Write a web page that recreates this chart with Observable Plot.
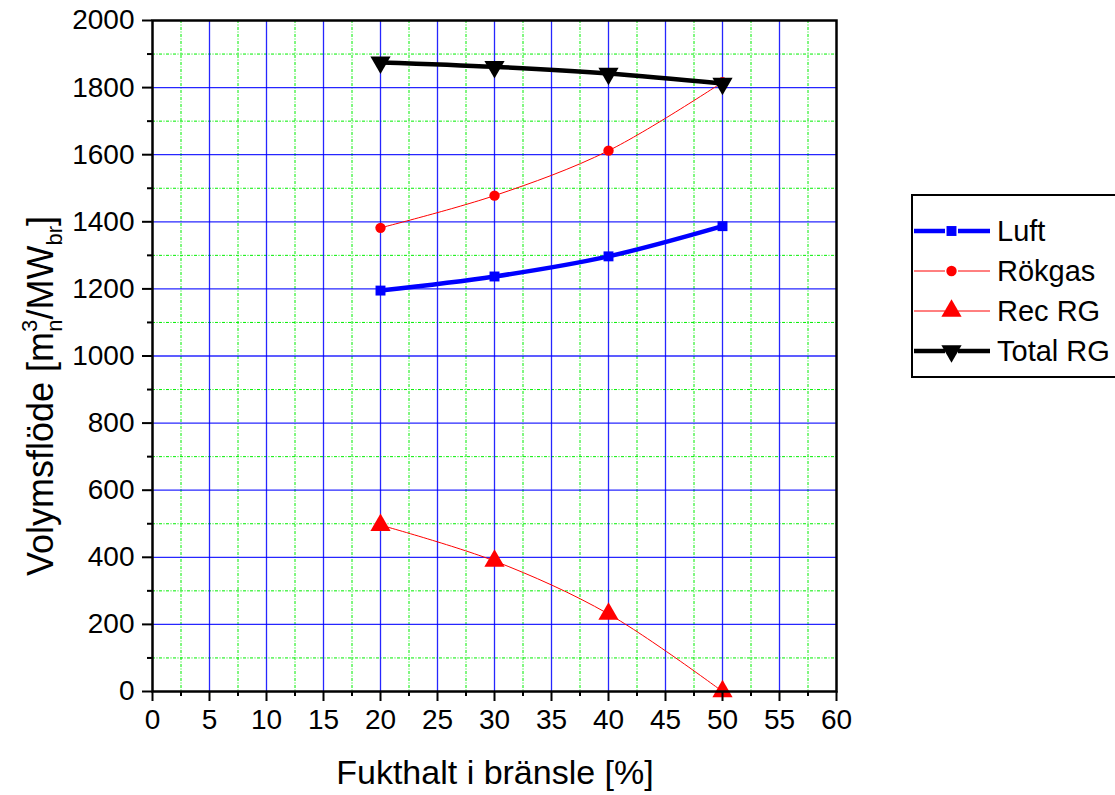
<!DOCTYPE html>
<html>
<head>
<meta charset="utf-8">
<script src="https://cdn.jsdelivr.net/npm/d3@7"></script>
<script src="https://cdn.jsdelivr.net/npm/@observablehq/plot@0.6"></script>
<style>
  html, body { margin: 0; padding: 0; background: #fff; }
  #chart { position: relative; width: 1115px; height: 795px; }
  svg { font-family: "Liberation Sans", Arial, sans-serif; }
</style>
</head>
<body>
<div id="chart"></div>
<script>
// Moisture content of the fuel [%]
const moisture = [20, 30, 40, 50];

// Volume flows [m3n/MWbr]
const luft    = [1195, 1237, 1297, 1387];
const rokgas  = [1382, 1478, 1612, 1816];
const recRG   = [496, 389, 231, 0];
const totalRG = [1875, 1862, 1842, 1812];

const seriesNames = ["Luft", "Rökgas", "Rec RG", "Total RG"];
const seriesValues = [luft, rokgas, recRG, totalRG];

// Axis ticks
const xMajor = d3.range(0, 61, 5);
const xMinor = d3.range(2.5, 60, 5);
const yMajor = d3.range(0, 2001, 200);
const yMinor = d3.range(100, 2000, 200);

const styles = {
  "Luft":     {color: "#0000ff", width: 4.5, symbol: "square",   r: 5.6, rotate: 0},
  "Rökgas":   {color: "#ff0000", width: 1,   symbol: "circle",   r: 5.2, rotate: 0},
  "Rec RG":   {color: "#ff0000", width: 1,   symbol: "triangle", r: 7.5, rotate: 0},
  "Total RG": {color: "#000000", width: 4.5, symbol: "triangle", r: 7.5, rotate: 180}
};

const rows = seriesNames.flatMap((name, i) =>
  moisture.map((m, j) => ({series: name, x: m, y: seriesValues[i][j]})));

const marks = [
  Plot.gridX(xMinor, {stroke: "#00ee00", strokeOpacity: 1, strokeWidth: 1, strokeDasharray: "3,1.5,1,1.5"}),
  Plot.gridY(yMinor, {stroke: "#00ee00", strokeOpacity: 1, strokeWidth: 1, strokeDasharray: "3,1.5,1,1.5"}),
  Plot.gridX(xMajor.slice(1, -1), {stroke: "#0000ff", strokeOpacity: 0.85, strokeWidth: 1.3}),
  Plot.gridY(yMajor.slice(1, -1), {stroke: "#0000ff", strokeOpacity: 0.85, strokeWidth: 1.3})
];

for (const name of seriesNames) {
  const s = styles[name];
  const data = rows.filter(d => d.series === name);
  marks.push(Plot.line(data, {x: "x", y: "y", stroke: s.color, strokeWidth: s.width, curve: "catmull-rom"}));
}
for (const name of seriesNames) {
  const s = styles[name];
  const data = rows.filter(d => d.series === name);
  marks.push(Plot.dot(data, {x: "x", y: "y", fill: s.color, stroke: "none", r: s.r, symbol: s.symbol, rotate: s.rotate}));
}

marks.push(
  Plot.axisX(xMajor, {tickSize: 10, tickPadding: 8, fontSize: 28, stroke: "#000", strokeWidth: 2, label: null, color: "#000", tickFormat: d => String(d)}),
  Plot.axisX(xMinor, {tickSize: 5, text: null, stroke: "#000", strokeWidth: 2, label: null}),
  Plot.axisY(yMajor, {tickSize: 10, tickPadding: 8, fontSize: 28, stroke: "#000", strokeWidth: 2, label: null, color: "#000", tickFormat: d => String(d)}),
  Plot.axisY(yMinor, {tickSize: 5, text: null, stroke: "#000", strokeWidth: 2, label: null}),
  Plot.frame({stroke: "#000", strokeWidth: 2.5})
);

const chart = Plot.plot({
  width: 1115,
  height: 795,
  marginLeft: 152,
  marginTop: 20,
  marginRight: 279,
  marginBottom: 104,
  x: {domain: [0, 60]},
  y: {domain: [0, 2000]},
  style: {fontFamily: "'Liberation Sans', Arial, sans-serif", color: "#000", background: "#fff"},
  marks
});

document.getElementById("chart").appendChild(chart);

const svg = d3.select(chart);

// Axis titles
svg.append("text")
  .attr("x", 495).attr("y", 784)
  .attr("text-anchor", "middle")
  .attr("font-size", 34)
  .attr("fill", "#000")
  .text("Fukthalt i bränsle [%]");

const yt = svg.append("text")
  .attr("transform", "translate(53,396) rotate(-90)")
  .attr("text-anchor", "middle")
  .attr("font-size", 36)
  .attr("fill", "#000");
yt.append("tspan").text("Volymsflöde [m");
yt.append("tspan").attr("font-size", 22).attr("dy", -16).text("3");
yt.append("tspan").attr("font-size", 22).attr("dx", -12).attr("dy", 25).text("n");
yt.append("tspan").attr("dy", -9).text("/MW");
yt.append("tspan").attr("font-size", 22).attr("dy", 9).text("br");
yt.append("tspan").attr("dy", -9).text("]");

// Legend
const lg = svg.append("g").attr("text-anchor", "start");
lg.append("rect")
  .attr("x", 912).attr("y", 195).attr("width", 230).attr("height", 182)
  .attr("fill", "#fff").attr("stroke", "#000").attr("stroke-width", 2);

const legendY = [231, 271, 311, 351];
seriesNames.forEach((name, i) => {
  const s = styles[name];
  const y = legendY[i];
  lg.append("line").attr("x1", 914).attr("x2", 945).attr("y1", y).attr("y2", y)
    .attr("stroke", s.color).attr("stroke-width", s.width);
  lg.append("line").attr("x1", 958).attr("x2", 990).attr("y1", y).attr("y2", y)
    .attr("stroke", s.color).attr("stroke-width", s.width);
  const symType = s.symbol === "square" ? d3.symbolSquare : s.symbol === "circle" ? d3.symbolCircle : d3.symbolTriangle;
  lg.append("path")
    .attr("d", d3.symbol(symType, Math.PI * s.r * s.r)())
    .attr("transform", `translate(951.5,${y}) rotate(${s.rotate})`)
    .attr("fill", s.color);
  lg.append("text")
    .attr("x", 997).attr("y", y).attr("dy", "0.35em")
    .attr("text-anchor", "start")
    .attr("font-size", 29).attr("fill", "#000")
    .text(name);
});
</script>
</body>
</html>
